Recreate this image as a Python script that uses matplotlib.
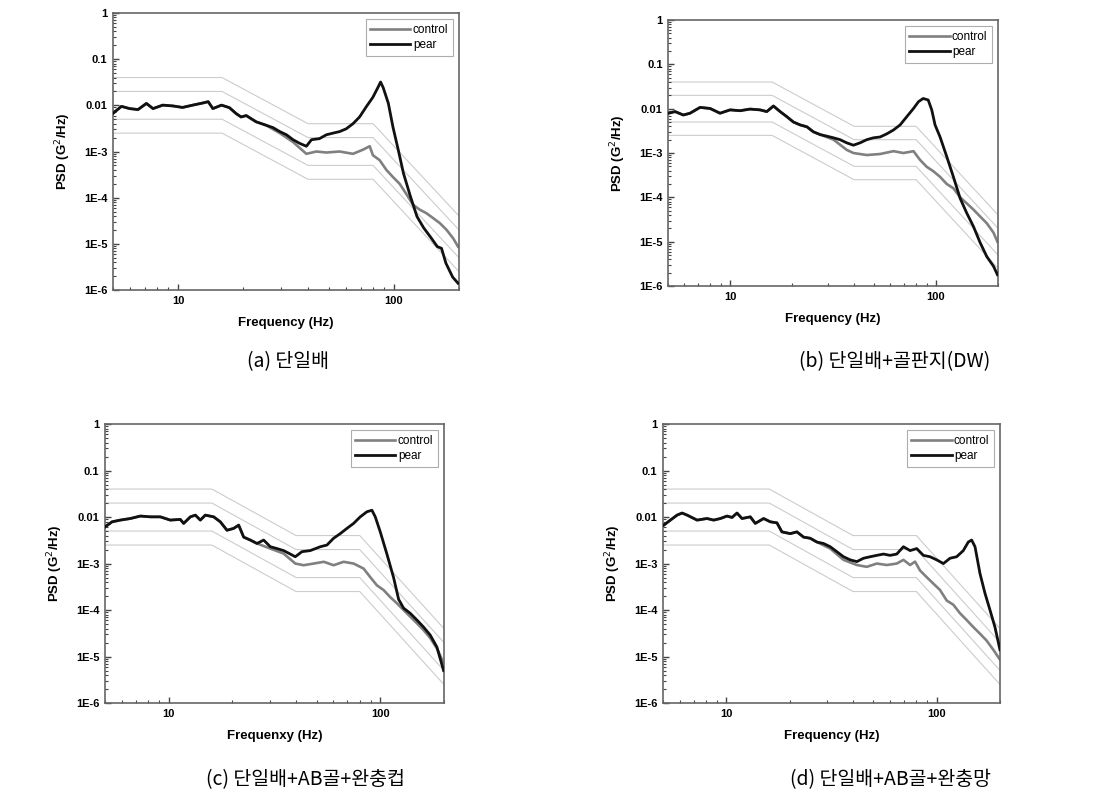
import matplotlib
matplotlib.use("Agg")
import matplotlib.pyplot as plt
from matplotlib.ticker import FuncFormatter, NullFormatter, LogLocator, FixedLocator

plt.rcParams['font.family'] = ['Liberation Sans', 'DejaVu Sans']
plt.rcParams['axes.unicode_minus'] = False

# 허용 한계선 (±3dB, ±6dB)
lim_freq = [5, 16, 40, 80, 200]
lim_up6 = [0.04, 0.04, 0.004, 0.004, 4e-5]
lim_up3 = [0.02, 0.02, 0.002, 0.002, 2e-5]
lim_lo3 = [0.005, 0.005, 0.0005, 0.0005, 5e-6]
lim_lo6 = [0.0025, 0.0025, 0.00025, 0.00025, 2.5e-6]

# (a) 단일배
a_pear_f = [5.0, 5.47, 5.97, 6.53, 7.14, 7.66, 8.5, 9.48, 10.5, 11.7, 13.1, 13.8, 14.5, 15.9, 17.3,
            18.6, 19.6, 20.7, 23.0, 25.6, 27.5, 29.6, 31.8, 34.1, 36.6, 39.3, 41.5, 45.2, 48.6, 52.2,
            56.0, 60.1, 64.6, 69.3, 74.4, 79.9, 84.5, 86.7, 89.2, 94.2, 98.9, 104.6, 110.6, 118.9,
            127.8, 137.4, 147.7, 158.7, 166, 174, 187, 198]
a_pear_p = [0.0067, 0.0095, 0.0085, 0.0081, 0.011, 0.0085, 0.0101, 0.0097, 0.009, 0.0101, 0.0113,
            0.012, 0.0085, 0.0101, 0.0089, 0.0066, 0.0056, 0.006, 0.0044, 0.0037, 0.0033, 0.0027,
            0.0023, 0.0018, 0.0015, 0.0013, 0.0018, 0.0019, 0.0023, 0.0025, 0.0027, 0.0031, 0.004,
            0.0056, 0.0093, 0.015, 0.025, 0.032, 0.024, 0.011, 0.0034, 0.0011, 0.00034, 0.00011,
            3.9e-5, 2.2e-5, 1.4e-5, 8.7e-6, 8e-6, 3.8e-6, 1.9e-6, 1.4e-6]
a_ctrl_f = [5.0, 5.47, 5.97, 6.53, 7.14, 7.66, 8.5, 9.48, 10.5, 11.7, 13.1, 13.8, 14.5, 15.9, 17.3,
            18.6, 19.6, 20.7, 23.0, 25.6, 29.6, 34.1, 39.3, 43.7, 48.6, 56.0, 64.6, 72.0,
            77.2, 79.9, 85.8, 92.2, 98.9, 106.2, 114.1, 122.5, 131.6, 141.4, 151.9, 163.2, 175.3,
            188.3, 198]
a_ctrl_p = [0.0067, 0.0095, 0.0085, 0.0081, 0.011, 0.0085, 0.0101, 0.0097, 0.009, 0.0101, 0.0113,
            0.012, 0.0085, 0.0101, 0.0089, 0.0066, 0.0056, 0.006, 0.0044, 0.0037, 0.0025, 0.0016,
            0.00089, 0.001, 0.00095, 0.001, 0.00089, 0.0011, 0.0013, 0.00083, 0.00065, 0.0004,
            0.00028, 0.0002, 0.00012, 7e-5, 5.5e-5, 4.6e-5, 3.6e-5, 2.8e-5, 2e-5, 1.3e-5, 8.7e-6]

# (b) 단일배+골판지(DW)
b_pear_f = [5.02, 5.41, 5.93, 6.39, 7.15, 8.0, 8.94, 10.0, 11.18, 12.5, 13.98, 15.07, 16.24, 17.5,
            18.86, 20.3, 21.9, 23.6, 25.4, 27.4, 29.5, 31.8, 34.2, 36.8, 39.7, 42.8, 46.1, 49.6,
            53.5, 57.6, 62.1, 66.9, 72.1, 77.7, 82.2, 86.6, 91.6, 95.3, 98.9, 104.6, 112.7, 121.4,
            130.9, 141.0, 151.9, 163.7, 176.4, 190.0, 198.6]
b_pear_p = [0.0079, 0.0086, 0.0072, 0.0079, 0.0107, 0.0101, 0.0079, 0.0094, 0.009, 0.0098, 0.0094,
            0.0086, 0.0115, 0.0086, 0.0066, 0.005, 0.0043, 0.0039, 0.003, 0.0026, 0.0024, 0.0022,
            0.002, 0.0017, 0.0015, 0.0017, 0.002, 0.0022, 0.0023, 0.0027, 0.0033, 0.0043, 0.0066,
            0.0101, 0.0144, 0.017, 0.0157, 0.0094, 0.0043, 0.0023, 0.00083, 0.00029, 9.5e-5,
            4.4e-5, 2.2e-5, 9.5e-6, 4.6e-6, 2.8e-6, 1.8e-6]
b_ctrl_f = [5.02, 5.41, 5.93, 6.39, 7.15, 8.0, 8.94, 10.0, 11.18, 12.5, 13.98, 15.07, 16.24, 17.5,
            18.86, 20.3, 21.9, 23.6, 25.4, 27.4, 31.8, 36.8, 39.7, 46.1, 53.5, 62.1, 69.4,
            77.7, 83.6, 90.0, 96.9, 104.6, 112.7, 121.4, 130.9, 141.0, 151.9, 163.7, 176.4, 190.0,
            198.6]
b_ctrl_p = [0.0079, 0.0086, 0.0072, 0.0079, 0.0107, 0.0101, 0.0079, 0.0094, 0.009, 0.0098, 0.0094,
            0.0086, 0.0115, 0.0086, 0.0066, 0.005, 0.0043, 0.0039, 0.003, 0.0026, 0.002, 0.00118,
            0.001, 0.0009, 0.00095, 0.0011, 0.001, 0.0011, 0.0007, 0.00049, 0.00039, 0.00029,
            0.0002, 0.00016, 0.0001, 7.3e-5, 5.3e-5, 3.7e-5, 2.6e-5, 1.6e-5, 1e-5]

# (c) 단일배+AB골+완충컵
c_pear_f = [5.02, 5.40, 5.91, 6.59, 7.35, 8.19, 9.13, 10.18, 11.35, 11.77, 12.66, 13.37, 14.11,
            14.90, 16.32, 17.54, 18.86, 20.28, 21.42, 22.62, 24.31, 26.15, 28.11, 30.22, 32.49,
            34.94, 37.56, 39.66, 42.64, 46.70, 52.07, 55.98, 60.19, 64.71, 69.57, 74.81, 80.43,
            86.48, 91.33, 94.71, 100.0, 107.5, 115.6, 122.1, 128.9, 138.6, 149.0, 160.2, 172.2,
            185.2, 199.2]
c_pear_p = [0.0062, 0.0079, 0.0086, 0.0093, 0.0105, 0.0101, 0.0101, 0.0086, 0.0089, 0.0073, 0.0101,
            0.011, 0.0086, 0.011, 0.0101, 0.0079, 0.0052, 0.0057, 0.0067, 0.0037, 0.0032, 0.0027,
            0.0032, 0.0023, 0.0021, 0.0019, 0.0016, 0.0014, 0.0018, 0.0019, 0.0023, 0.0025, 0.0035,
            0.0044, 0.0057, 0.0073, 0.0101, 0.013, 0.014, 0.0101, 0.0048, 0.0016, 0.0005, 0.00017,
            0.00011, 8.5e-5, 6.1e-5, 4.3e-5, 2.9e-5, 1.6e-5, 5e-6]
c_ctrl_f = [5.02, 5.40, 5.91, 6.59, 7.35, 8.19, 9.13, 10.18, 11.35, 11.77, 12.66, 13.37, 14.11,
            14.90, 16.32, 17.54, 18.86, 20.28, 21.42, 22.62, 24.31, 26.15, 30.22, 34.94, 39.66,
            43.43, 48.46, 54.1, 60.19, 67.1, 74.81, 83.4, 89.7, 96.4, 103.6, 111.4, 119.8, 128.9,
            138.6, 149.0, 160.2, 172.2, 185.2, 199.2]
c_ctrl_p = [0.0062, 0.0079, 0.0086, 0.0093, 0.0105, 0.0101, 0.0101, 0.0086, 0.0089, 0.0073, 0.0101,
            0.011, 0.0086, 0.011, 0.0101, 0.0079, 0.0052, 0.0057, 0.0067, 0.0037, 0.0032, 0.0027,
            0.0021, 0.00164, 0.001, 0.00092, 0.001, 0.00109, 0.00092, 0.00109, 0.001, 0.00078,
            0.00051, 0.00034, 0.00027, 0.00019, 0.00014, 0.0001, 7.2e-5, 5.2e-5, 3.7e-5, 2.5e-5,
            1.5e-5, 7.3e-6]

# (d) 단일배+AB골+완충망
d_pear_f = [5.04, 5.42, 5.83, 6.16, 6.51, 7.26, 8.09, 8.71, 9.37, 10.07, 10.64, 11.24, 11.87, 13.0,
            13.73, 15.04, 16.18, 17.40, 18.37, 20.13, 21.65, 23.29, 25.04, 26.94, 28.97, 31.17,
            33.52, 36.06, 38.79, 41.72, 44.87, 48.26, 51.91, 55.83, 60.05, 64.59, 69.47, 74.72,
            80.37, 86.44, 92.98, 100.0, 107.6, 115.7, 124.4, 133.8, 141.3, 146.6, 152.1, 160.6,
            169.6, 179.2, 189.2, 199.8]
d_pear_p = [0.0067, 0.0086, 0.011, 0.0122, 0.011, 0.0086, 0.0093, 0.0086, 0.0093, 0.0105, 0.0098,
            0.0122, 0.0093, 0.0101, 0.0073, 0.0093, 0.0079, 0.0075, 0.0048, 0.0044, 0.0048, 0.0037,
            0.0035, 0.0029, 0.0027, 0.0023, 0.0018, 0.0014, 0.0012, 0.0011, 0.0013, 0.0014, 0.0015,
            0.0016, 0.0015, 0.0016, 0.0023, 0.0019, 0.0021, 0.0015, 0.0014, 0.0012, 0.001, 0.0013,
            0.0014, 0.0019, 0.0029, 0.0032, 0.0023, 0.00061, 0.00023, 0.0001, 4.3e-5, 1.4e-5]
d_ctrl_f = [5.04, 5.42, 5.83, 6.16, 6.51, 7.26, 8.09, 8.71, 9.37, 10.07, 10.64, 11.24, 11.87, 13.0,
            13.73, 15.04, 16.18, 17.40, 18.37, 20.13, 21.65, 23.29, 25.04, 26.94, 31.17, 36.06,
            41.72, 46.5, 51.91, 57.9, 64.59, 69.47, 74.72, 78.9, 83.3, 89.6, 96.4, 103.7, 111.6,
            120.0, 129.1, 138.8, 149.3, 160.6, 172.7, 185.8, 199.8]
d_ctrl_p = [0.0067, 0.0086, 0.011, 0.0122, 0.011, 0.0086, 0.0093, 0.0086, 0.0093, 0.0105, 0.0098,
            0.0122, 0.0093, 0.0101, 0.0073, 0.0093, 0.0079, 0.0075, 0.0048, 0.0044, 0.0048, 0.0037,
            0.0035, 0.0029, 0.0021, 0.0012, 0.00093, 0.00085, 0.001, 0.00093, 0.001, 0.0012,
            0.00093, 0.0011, 0.00071, 0.00051, 0.00037, 0.00027, 0.00016, 0.00013, 8.5e-5, 6.1e-5,
            4.3e-5, 3.1e-5, 2.2e-5, 1.4e-5, 8.6e-6]

y_ticks = [1e-6, 1e-5, 1e-4, 1e-3, 0.01, 0.1, 1]
y_ticklabels = ['1E-6', '1E-5', '1E-4', '1E-3', '0.01', '0.1', '1']

panels = [
    dict(rect=[0.103, 0.6366, 0.3154, 0.3471], pf=a_pear_f, pp=a_pear_p, cf=a_ctrl_f, cp=a_ctrl_p,
         xlabel='Frequency (Hz)', caption='(a) 단일배', cap_xy=(288, 362)),
    dict(rect=[0.609, 0.6416, 0.3008, 0.3333], pf=b_pear_f, pp=b_pear_p, cf=b_ctrl_f, cp=b_ctrl_p,
         xlabel='Frequency (Hz)', caption='(b) 단일배+골판지(DW)', cap_xy=(895, 362)),
    dict(rect=[0.0957, 0.119, 0.309, 0.3496], pf=c_pear_f, pp=c_pear_p, cf=c_ctrl_f, cp=c_ctrl_p,
         xlabel='Frequenxy (Hz)', caption='(c) 단일배+AB골+완충컵', cap_xy=(305, 780)),
    dict(rect=[0.6044, 0.119, 0.3072, 0.3496], pf=d_pear_f, pp=d_pear_p, cf=d_ctrl_f, cp=d_ctrl_p,
         xlabel='Frequency (Hz)', caption='(d) 단일배+AB골+완충망', cap_xy=(891, 780)),
]

W, H = 1097, 798
fig = plt.figure(figsize=(W / 100, H / 100), dpi=100)

for p in panels:
    ax = fig.add_axes(p['rect'])
    for lim in (lim_up6, lim_up3, lim_lo3, lim_lo6):
        ax.plot(lim_freq, lim, color='#cccccc', lw=0.8, zorder=1)
    ax.plot(p['cf'], p['cp'], color='#808080', lw=1.9, label='control', zorder=2)
    ax.plot(p['pf'], p['pp'], color='#111111', lw=2.0, label='pear', zorder=3)

    ax.set_xscale('log')
    ax.set_yscale('log')
    ax.set_xlim(5, 200)
    ax.set_ylim(1e-6, 1)

    ax.xaxis.set_major_locator(FixedLocator([10, 100]))
    ax.xaxis.set_major_formatter(FuncFormatter(lambda v, pos: '%d' % v))
    ax.xaxis.set_minor_locator(LogLocator(base=10, subs=range(2, 10)))
    ax.xaxis.set_minor_formatter(NullFormatter())
    ax.set_yticks(y_ticks)
    ax.set_yticklabels(y_ticklabels)
    ax.yaxis.set_minor_locator(LogLocator(base=10, subs=range(2, 10), numticks=20))
    ax.yaxis.set_minor_formatter(NullFormatter())

    ax.tick_params(which='both', direction='in', top=False, right=False,
                   color='#444444', labelsize=8, pad=4)
    ax.tick_params(which='major', length=4, width=1)
    ax.tick_params(which='minor', length=2, width=0.8)
    for lab in ax.get_xticklabels() + ax.get_yticklabels():
        lab.set_fontweight('bold')
    for s in ax.spines.values():
        s.set_color('#666666')
        s.set_linewidth(1.2)

    ax.set_xlabel(p['xlabel'], fontsize=9.5, fontweight='bold', labelpad=8)
    ax.set_ylabel('PSD (G$^2$/Hz)', fontsize=9.5, fontweight='bold', labelpad=8)

    leg = ax.legend(loc='upper right', fontsize=8.5, frameon=True, fancybox=False,
                    edgecolor='#999999', handlelength=3.4, borderaxespad=0.5,
                    borderpad=0.4, labelspacing=0.3, handletextpad=0.2)
    leg.get_frame().set_linewidth(0.8)

    fig.text(p['cap_xy'][0] / W, 1 - p['cap_xy'][1] / H, p['caption'], fontsize=14,
             ha='center', va='center', family=['Noto Sans CJK KR', 'DejaVu Sans'])

fig.savefig('out.png', dpi=100)
